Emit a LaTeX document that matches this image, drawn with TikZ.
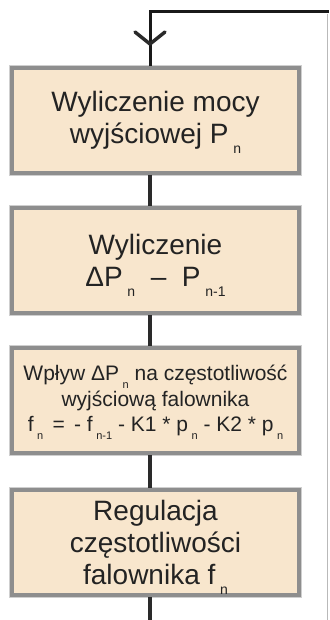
\documentclass[tikz,border=0pt]{standalone}
\usepackage{fontspec}
\setmainfont{Liberation Sans}
\usetikzlibrary{calc}
\definecolor{boxfill}{HTML}{F8E6CD}
\definecolor{boxedge}{HTML}{8E8E8E}
\definecolor{boxhalo}{HTML}{CFCFCF}
\definecolor{linecol}{HTML}{2A2A2A}
\definecolor{txt}{HTML}{232323}
\newcommand\subA[1]{\,\raisebox{-10pt}[0pt][0pt]{\fontsize{14}{14}\selectfont #1}}
\newcommand\subB[1]{\,\raisebox{-8pt}[0pt][0pt]{\fontsize{11}{11}\selectfont #1}}
\begin{document}
\begin{tikzpicture}[x=1pt,y=-1pt,
  stepbox/.style={draw=boxedge, line width=3.5pt, fill=boxfill,
    minimum width=287pt, minimum height=105pt, inner sep=0pt,
    align=center, text=txt, preaction={draw=boxhalo, line width=6.5pt}},
  big/.style={font=\fontsize{28}{32}\selectfont},
  small/.style={font=\fontsize{21}{25.5}\selectfont},
  conn/.style={draw=linecol, line width=3.5pt}]
\useasboundingbox (0,0) rectangle (329,620);

\coordinate (tl) at (150,12);
\coordinate (tr) at (329,12);
\coordinate (rt) at (327,14);
\coordinate (rb) at (327,620);
\coordinate (bot) at (150,620);
\coordinate (tip) at (150,44);

\node[stepbox, big] (b1) at (155.5,120.5) {Wyliczenie mocy\\wyjściowej P\subA{n}};
\node[stepbox, big] (b2) at (155.5,260.5) {Wyliczenie\\ΔP\subA{n}\ \ – \ P\subA{n-1}};
\node[stepbox, small] (b3) at (155.5,400.5) {Wpływ ΔP\subB{n}\ na częstotliwość\\wyjściową falownika\\f\subB{n}\ \,=\, - f\subB{n-1}\ - K1 * p\subB{n}\ - K2 * p\subB{n}};
\node[stepbox, big] (b4) at (155.5,542.5) {Regulacja\\częstotliwości\\falownika f\subA{n}};

\draw[line width=0.8pt, gray!55] (rt) -- (rb);
\draw[conn, draw=black!90, line width=3pt] (b1.north -| tl) -- (tl) -- (tr);
\draw[conn, line cap=round, line join=round] ($(tip)+(-15,-12)$) -- (tip) -- ($(tip)+(15,-12)$);
\draw[conn] (b1.south -| tl) -- (b2.north -| tl);
\draw[conn] (b2.south -| tl) -- (b3.north -| tl);
\draw[conn] (b3.south -| tl) -- (b4.north -| tl);
\draw[conn] (b4.south -| tl) -- (bot);
\end{tikzpicture}
\end{document}
